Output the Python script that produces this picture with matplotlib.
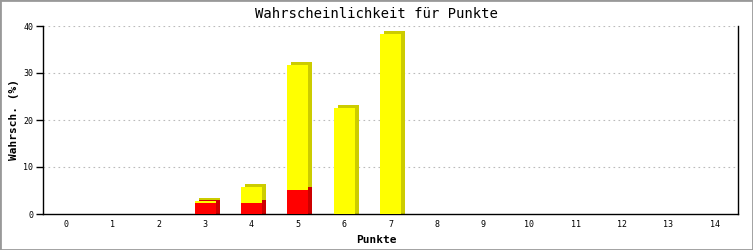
import matplotlib
matplotlib.use("Agg")
import matplotlib.pyplot as plt
from matplotlib.transforms import ScaledTranslation
import numpy as np

points = list(range(15))
red_vals = [0, 0, 0, 2.34, 2.34, 5.1, 0, 0, 0, 0, 0, 0, 0, 0, 0]
yellow_vals = [0, 0, 0, 0.49, 3.32, 26.5, 22.6, 38.4, 0, 0, 0, 0, 0, 0, 0]
yticks = [0, 10, 20, 30, 40]

fig = plt.figure(figsize=(7.53, 2.5), dpi=100)
ax = fig.add_axes([43/753, 36/250, 695/753, 188/250])

x = np.array(points)
red = np.array(red_vals)
yel = np.array(yellow_vals)
w = 0.45
off = ax.transData + ScaledTranslation(4/100, 3/100, fig.dpi_scale_trans)
ext = 3 / 4.7  # extend shadow down to the axis

mask_r = red > 0
mask_y = yel > 0
ybot = np.where(red > 0, red, -ext)
yhgt = np.where(red > 0, yel, yel + ext)
ax.bar(x[mask_r], red[mask_r] + ext, bottom=-ext, width=w, color="#CC0000",
       transform=off, zorder=2, linewidth=0)
ax.bar(x[mask_y], yhgt[mask_y], bottom=ybot[mask_y], width=w, color="#CCCC00",
       transform=off, zorder=2, linewidth=0)
ax.bar(x[mask_r], red[mask_r], width=w, color="#FF0000", zorder=3, linewidth=0)
ax.bar(x[mask_y], yel[mask_y], bottom=red[mask_y], width=w, color="#FFFF00", zorder=3, linewidth=0)

ax.set_xlim(-0.5, 14.5)
ax.set_ylim(0, 40)
ax.set_yticks(yticks)
ax.set_xticks(points)
mono = "DejaVu Sans Mono"
ax.set_xticklabels([str(p) for p in points], fontsize=6, family=mono)
ax.set_yticklabels([str(t) for t in yticks], fontsize=6, family=mono)
ax.tick_params(axis="x", length=0, pad=4)
ax.tick_params(axis="y", length=5, width=1, pad=2)
for y in yticks[1:]:
    ax.axhline(y, xmin=0, xmax=1, color="#BBBBBB", linestyle=(0, (1.5, 3)), linewidth=0.8, zorder=1)
ax.spines["top"].set_visible(False)
for s in ["left", "bottom", "right"]:
    ax.spines[s].set_color("black")
    ax.spines[s].set_linewidth(1)

fig.text(376/753, 1 - 14/250, "Wahrscheinlichkeit für Punkte", fontsize=10, family=mono,
         ha="center", va="center")
fig.text(376/753, 1 - 240/250, "Punkte", fontsize=8, family=mono, fontweight="bold",
         ha="center", va="center")
fig.text(14/753, 1 - 120/250, "Wahrsch. (%)", fontsize=8, family=mono, fontweight="bold",
         rotation=90, ha="center", va="center")

fig.patches.append(plt.Rectangle((0, 0), 1, 1, transform=fig.transFigure, fill=False,
                                 edgecolor="#999999", linewidth=2))
fig.savefig("out.png", dpi=100)
